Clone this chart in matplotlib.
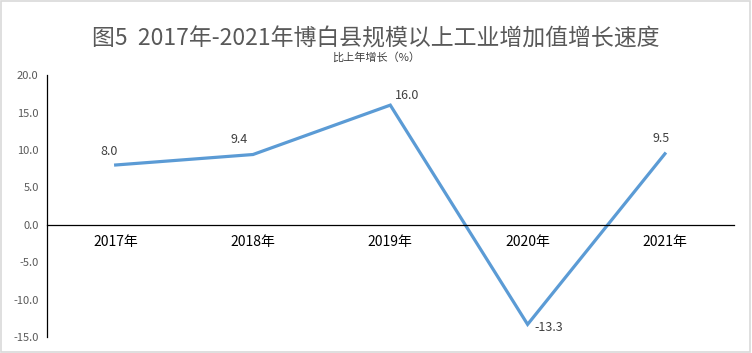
import matplotlib
matplotlib.use('Agg')
import matplotlib.pyplot as plt
from matplotlib.patches import Rectangle

plt.rcParams['font.family'] = ['Noto Sans CJK SC', 'DejaVu Sans']

years = ['2017年', '2018年', '2019年', '2020年', '2021年']
growth = [8.0, 9.4, 16.0, -13.3, 9.5]
# label offsets in points (dx, dy)
label_offsets = [(-5, 5), (-10, 6), (12, 2), (15, -2), (-3, 6)]
yticks = [-15.0, -10.0, -5.0, 0.0, 5.0, 10.0, 15.0, 20.0]

grey = '#595959'
line_color = '#5B9BD5'

fig = plt.figure(figsize=(7.52, 3.53), dpi=100)
fig.patches.append(Rectangle((0.001, 0.002), 0.997, 0.995, transform=fig.transFigure,
                             fill=False, edgecolor='#D9D9D9', linewidth=1.2))
ax = fig.add_axes([0.0625, 0.045, 0.913, 0.742])

x = list(range(len(years)))
ax.plot(x, growth, color=line_color, linewidth=2.3, solid_joinstyle='miter')

for xi, v, (dx, dy) in zip(x, growth, label_offsets):
    ax.annotate(f'{v:.1f}', (xi, v), xytext=(dx, dy), textcoords='offset points',
                ha='center', va='bottom' if dy > 0 else 'center',
                fontsize=9, color='#404040')

ax.set_xlim(-0.5, len(years) - 0.5)
ax.set_ylim(-15, 20)
ax.set_yticks(yticks)
ax.set_yticklabels([f'{t:.1f}' for t in yticks], fontsize=8, color=grey)
ax.set_xticks(x)
ax.set_xticklabels(years, fontsize=8.5, color=grey)

ax.spines['bottom'].set_position(('data', 0))
ax.spines['bottom'].set_linewidth(0.9)
ax.spines['left'].set_linewidth(0.9)
ax.spines['top'].set_visible(False)
ax.spines['right'].set_visible(False)
ax.tick_params(axis='x', length=0, pad=7)
ax.tick_params(axis='y', length=0, pad=6)

fig.text(0.5, 0.89, '图5  2017年-2021年博白县规模以上工业增加值增长速度',
         ha='center', va='center', fontsize=16.5, color=grey)
fig.text(0.5, 0.838, '比上年增长（%）', ha='center', va='center', fontsize=8, color='#404040')

fig.savefig('out.png', dpi=100)
